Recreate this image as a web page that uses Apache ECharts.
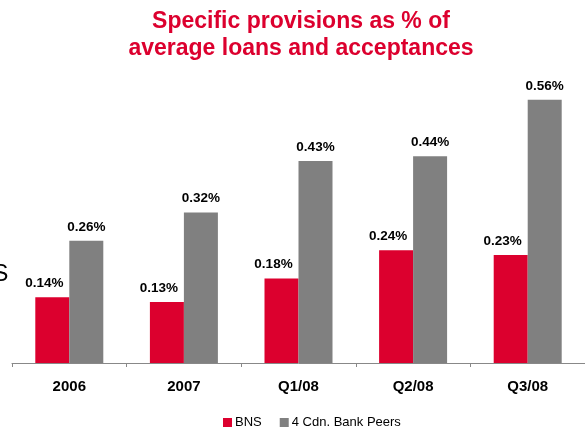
<!DOCTYPE html>
<html><head><meta charset="utf-8">
<script src="https://cdn.jsdelivr.net/npm/echarts@6/dist/echarts.min.js"></script>
<style>html,body{margin:0;padding:0;background:#fff}#c{width:585px;height:429px}</style>
</head><body><div id="c"></div>
<script>
const categories = ['2006', '2007', 'Q1/08', 'Q2/08', 'Q3/08'];
const bnsValues = [0.14, 0.13, 0.18, 0.24, 0.23];
const peerValues = [0.26, 0.32, 0.43, 0.44, 0.56];
const seriesNames = ['BNS', '4 Cdn. Bank Peers'];
const titleText = 'Specific provisions as % of\naverage loans and acceptances';

const RED = '#dc002e';
const GRAY = '#808080';
const FONT = 'Liberation Sans, Arial, sans-serif';
const chart = echarts.init(document.getElementById('c'), null, {renderer: 'canvas'});
const labelFmt = p => p.value.toFixed(2) + '%';
chart.setOption({
  animation: false,
  textStyle: {fontFamily: FONT},
  title: {
    text: titleText, left: 296, top: 3, textAlign: 'center',
    textStyle: {color: RED, fontSize: 23, fontWeight: 'bold', lineHeight: 27, fontFamily: FONT}
  },
  graphic: [{type: 'text', left: -7, top: 263, style: {text: 'S', fontSize: 23, fill: '#000', fontFamily: FONT}}],
  legend: {
    data: seriesNames, left: 218, top: 411, itemWidth: 9, itemHeight: 9, itemGap: 18,
    icon: 'rect', textStyle: {fontSize: 13, color: '#000', padding: [0, 0, 0, -2]}
  },
  grid: {left: 12, width: 580, top: 81, height: 282, containLabel: false},
  xAxis: {
    type: 'category', data: categories,
    axisLine: {lineStyle: {color: '#888', width: 1}},
    axisTick: {show: true, length: 4, lineStyle: {color: '#888'}},
    axisLabel: {color: '#000', fontSize: 15, fontWeight: 'bold', margin: 16}
  },
  yAxis: {type: 'value', min: 0, max: 0.6, show: false, splitLine: {show: false}},
  series: [
    {name: seriesNames[0], type: 'bar', data: bnsValues, barWidth: 34, barGap: '0%',
     itemStyle: {color: RED},
     label: {show: true, position: 'top', distance: 7, offset: [-8, 0], formatter: labelFmt,
             color: '#000', fontSize: 13.5, fontWeight: 'bold'}},
    {name: seriesNames[1], type: 'bar', data: peerValues, barWidth: 34, barGap: '0%',
     itemStyle: {color: GRAY},
     label: {show: true, position: 'top', distance: 7, formatter: labelFmt,
             color: '#000', fontSize: 13.5, fontWeight: 'bold'}}
  ]
});
</script></body></html>
